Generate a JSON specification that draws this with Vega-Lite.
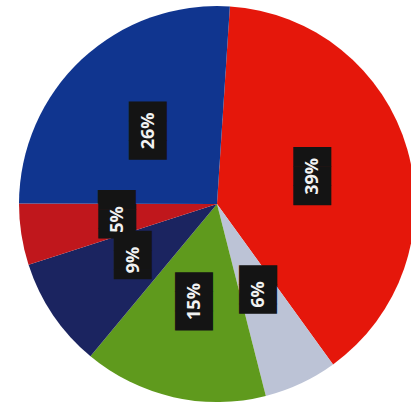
{
  "$schema": "https://vega.github.io/schema/vega-lite/v6.json",
  "width": 396,
  "height": 396,
  "padding": {"left": 19, "top": 6, "right": 0, "bottom": 0},
  "autosize": "none",
  "background": "white",
  "config": {"view": {"stroke": null}},
  "data": {
    "values": [
      {"order": 1, "category": "A", "value": 39, "label": "39%"},
      {"order": 2, "category": "B", "value": 6, "label": "6%"},
      {"order": 3, "category": "C", "value": 15, "label": "15%"},
      {"order": 4, "category": "D", "value": 9, "label": "9%"},
      {"order": 5, "category": "E", "value": 5, "label": "5%"},
      {"order": 6, "category": "F", "value": 26, "label": "26%"}
    ]
  },
  "transform": [
    {"calculate": "length(datum.label) > 2 ? '███' : '▐██'", "as": "box"}
  ],
  "encoding": {
    "theta": {"field": "value", "type": "quantitative", "stack": true, "scale": {"range": [0.065, 6.3482]}},
    "order": {"field": "order", "type": "quantitative"}
  },
  "layer": [
    {
      "mark": {"type": "arc", "outerRadius": 198, "stroke": null},
      "encoding": {
        "color": {
          "field": "category", "type": "nominal", "legend": null,
          "scale": {"domain": ["A", "B", "C", "D", "E", "F"],
                    "range": ["#e5170b", "#bcc3d6", "#5f9a1d", "#1b2460", "#c0171c", "#10358f"]}
        }
      }
    },
    {
      "mark": {"type": "text", "radius": 100, "angle": 270, "font": "DejaVu Sans Mono", "fontSize": 32, "color": "#141414", "baseline": "middle", "align": "center"},
      "encoding": {"text": {"field": "box"}}
    },
    {
      "mark": {"type": "text", "radius": 100, "angle": 270, "font": "Open Sans", "fontWeight": "bold", "fontSize": 18, "color": "#f2f2f2", "baseline": "middle", "align": "center"},
      "encoding": {"text": {"field": "label"}}
    }
  ]
}
